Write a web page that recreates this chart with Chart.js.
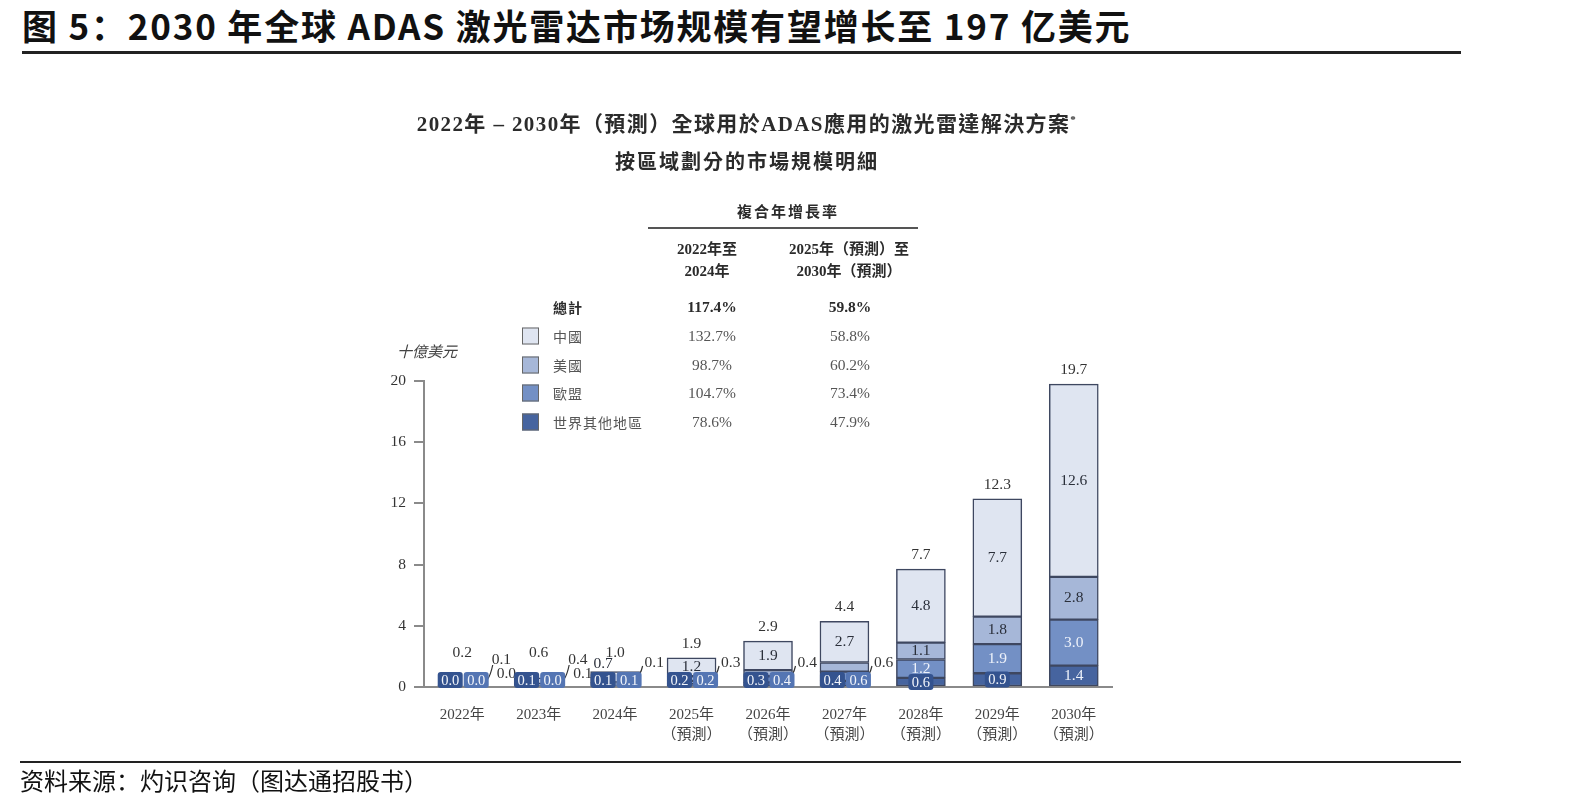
<!DOCTYPE html>
<html>
<head>
<meta charset="utf-8">
<script src="https://cdn.jsdelivr.net/npm/chart.js@4.4.1/dist/chart.umd.min.js"></script>
<style>
    body { margin: 0; background: #fff; width: 1594px; height: 810px; position: relative; overflow: hidden; }
    canvas { position: absolute; left: 0; top: 0; }
    .t { position: absolute; white-space: nowrap; transform: translate(-50%, -50%); color: #2b2b2b;
         font-family: 'Liberation Serif', 'Noto Sans CJK TC', serif; }
    .izq { transform: translate(0, -50%); }
    .b { font-weight: bold; }
    .gris { color: #555; }
    #titulo { position: absolute; left: 22px; top: 5px; font: bold 35px 'Noto Sans CJK SC', sans-serif; color: #111; line-height: 40px; white-space: nowrap; letter-spacing: 1.8px; }
    #fuente { position: absolute; left: 20px; top: 765px; font: 24px 'Noto Sans CJK SC', sans-serif; color: #111; line-height: 30px; }
    .regla { position: absolute; background: #222; }
    .cuadro { position: absolute; width: 15px; height: 15px; border: 1.5px solid #666; transform: translateY(-50%); }
</style>
</head>
<body>
<div id="titulo">图 5：2030 年全球 ADAS 激光雷达市场规模有望增长至 197 亿美元</div>
<div class="regla" style="left:22px; top:51px; width:1439px; height:3px;"></div>
<canvas id="grafica" width="1594" height="810"></canvas>
<div id="capa"></div>
<div class="regla" style="left:20px; top:761px; width:1441px; height:2px;"></div>
<div id="fuente">资料来源：灼识咨询（图达通招股书）</div>

<script>
// Datos (miles de millones de USD)
const anios = ['2022年', '2023年', '2024年', '2025年', '2026年', '2027年', '2028年', '2029年', '2030年'];
const prevision = [false, false, false, true, true, true, true, true, true];
const china = [0.1, 0.4, 0.7, 1.2, 1.9, 2.7, 4.8, 7.7, 12.6];
const eeuu = [0.0, 0.1, 0.1, 0.3, 0.4, 0.6, 1.1, 1.8, 2.8];
const ue = [0.0, 0.0, 0.1, 0.2, 0.4, 0.6, 1.2, 1.9, 3.0];
const resto = [0.0, 0.1, 0.1, 0.2, 0.3, 0.4, 0.6, 0.9, 1.4];
const totales = [0.2, 0.6, 1.0, 1.9, 2.9, 4.4, 7.7, 12.3, 19.7];
const ticksY = [0, 4, 8, 12, 16, 20];

// Tabla de crecimiento anual compuesto
const regiones = ['總計', '中國', '美國', '歐盟', '世界其他地區'];
const cagr2224 = ['117.4%', '132.7%', '98.7%', '104.7%', '78.6%'];
const cagr2530 = ['59.8%', '58.8%', '60.2%', '73.4%', '47.9%'];

const colores = { china: '#dfe5f1', eeuu: '#a6b7d8', ue: '#7390c5', resto: '#46649f' };
const borde = '#3e4760';
const FUENTE = "'Liberation Serif', 'Noto Sans CJK TC', serif";

// Textos fijos alrededor de la gráfica
function ponerTexto(txt, x, y, tam, clases = '', extra = '') {
    const d = document.createElement('div');
    d.className = 't ' + clases;
    d.style.left = x + 'px';
    d.style.top = y + 'px';
    d.style.fontSize = tam + 'px';
    if (extra) d.style.cssText += extra;
    d.innerHTML = txt;
    document.getElementById('capa').appendChild(d);
}

ponerTexto('2022年 – 2030年（預測）全球用於ADAS應用的激光雷達解決方案<sup style="font-size:11px">*</sup>', 747, 122, 21, 'b', 'letter-spacing:1.4px;');
ponerTexto('按區域劃分的市場規模明細', 747, 160, 20, 'b', 'letter-spacing:2px;');
ponerTexto('複合年增長率', 788, 210, 15, 'b', 'letter-spacing:2px;');
ponerTexto('2022年至', 707, 247, 15, 'b');
ponerTexto('2024年', 707, 269, 15, 'b');
ponerTexto('2025年（預測）至', 849, 247, 15, 'b');
ponerTexto('2030年（預測）', 849, 269, 15, 'b');
ponerTexto('十億美元', 427, 350, 15, '', 'font-style:italic;color:#444;');
(function () {
    const r = document.createElement('div');
    r.className = 'regla';
    r.style.cssText = 'left:648px; top:227px; width:270px; height:2px; background:#555;';
    document.getElementById('capa').appendChild(r);
})();

const filasY = [307, 336, 365, 393, 422];
const coloresLeyenda = [null, colores.china, colores.eeuu, colores.ue, colores.resto];
regiones.forEach((reg, k) => {
    const estilo = k === 0 ? 'b' : 'gris';
    ponerTexto(reg, 553, filasY[k], 14, 'izq ' + estilo, 'letter-spacing:1px;');
    ponerTexto(cagr2224[k], 712, filasY[k], 15.5, estilo);
    ponerTexto(cagr2530[k], 850, filasY[k], 15.5, estilo);
    if (coloresLeyenda[k]) {
        const c = document.createElement('div');
        c.className = 'cuadro';
        c.style.left = '522px';
        c.style.top = filasY[k] + 'px';
        c.style.background = coloresLeyenda[k];
        document.getElementById('capa').appendChild(c);
    }
});

// Etiquetas de los segmentos
function alto(el) { return el.base - el.y; }

const etiquetas = {
    id: 'etiquetas',
    afterDatasetsDraw(chart) {
        const ctx = chart.ctx;
        const base = chart.scales.y.getPixelForValue(0);
        ctx.save();
        ctx.textBaseline = 'middle';

        const texto = (t, x, y, color, alin = 'center', tam = 15.5) => {
            ctx.font = tam + 'px ' + FUENTE;
            ctx.fillStyle = color;
            ctx.textAlign = alin;
            ctx.fillText(t, x, y);
        };
        const caja = (t, x, y, fondo) => {
            ctx.fillStyle = fondo;
            ctx.beginPath();
            ctx.roundRect(x - 12.5, y - 8, 25, 16, 3);
            ctx.fill();
            texto(t, x, y + 1, '#f2f5fb', 'center', 14.5);
        };
        const guia = (x1, y1, x2, y2) => {
            ctx.strokeStyle = '#333';
            ctx.lineWidth = 1.2;
            ctx.beginPath();
            ctx.moveTo(x1, y1);
            ctx.quadraticCurveTo(x2 - 4, y1, x2, y2);
            ctx.stroke();
        };

        anios.forEach((_, i) => {
            const [bResto, bUe, bEeuu, bChina] = [0, 1, 2, 3].map(d => chart.getDatasetMeta(d).data[i]);
            const cx = bChina.x;
            const der = cx + bChina.width / 2;

            // total encima de la barra
            texto(totales[i].toFixed(1), cx, Math.min(bChina.y - 14, base - 34), '#333');

            // China
            let chinaFuera = false;
            if (alto(bChina) >= 14) {
                texto(china[i].toFixed(1), cx, (bChina.y + bChina.base) / 2, '#2a2f3a');
            } else if (china[i] >= 0.5) {
                texto(china[i].toFixed(1), cx - 12, bChina.y - 8, '#2a2f3a');
            } else {
                chinaFuera = true;
                guia(der - 6, base - 3, der + 6, base - 22);
                texto(china[i].toFixed(1), der + 5, base - 27, '#333', 'left');
            }

            // EE.UU.
            if (alto(bEeuu) >= 13) {
                texto(eeuu[i].toFixed(1), cx, (bEeuu.y + bEeuu.base) / 2, '#2a2f3a');
            } else {
                const yT = chinaFuera ? base - 13 : base - 24;
                if (!chinaFuera) guia(cx + 6, base - 3, der + 3, yT + 3);
                texto(eeuu[i].toFixed(1), der + (chinaFuera ? 10 : 5), yT, '#333', 'left');
            }

            // UE y resto del mundo
            if (alto(bUe) < 13 && alto(bResto) < 13) {
                caja(resto[i].toFixed(1), cx - 12, base - 7, '#34538f');
                caja(ue[i].toFixed(1), cx + 14, base - 7, '#5475b3');
            } else {
                [[bUe, ue[i], '#5475b3'], [bResto, resto[i], '#34538f']].forEach(([el, v, fondo]) => {
                    const yc = (el.y + el.base) / 2;
                    if (alto(el) >= 13) texto(v.toFixed(1), cx, yc, '#eef2fa');
                    else caja(v.toFixed(1), cx, yc, fondo);
                });
            }
        });
        ctx.restore();
    }
};

const serie = (label, data, color) => ({
    label, data,
    backgroundColor: color,
    borderColor: borde,
    borderWidth: 1.5,
    borderSkipped: false,
    barThickness: 49,
});

const graficaLidar = new Chart(document.getElementById('grafica'), {
    type: 'bar',
    data: {
        labels: anios.map((a, i) => prevision[i] ? [a, '（預測）'] : a),
        datasets: [
            serie('世界其他地區', resto, colores.resto),
            serie('歐盟', ue, colores.ue),
            serie('美國', eeuu, colores.eeuu),
            serie('中國', china, colores.china),
        ],
    },
    options: {
        responsive: false,
        animation: false,
        devicePixelRatio: 1,
        layout: { padding: { left: 341, right: 482, top: 381, bottom: 53 } },
        plugins: { legend: { display: false }, tooltip: { enabled: false } },
        scales: {
            x: {
                stacked: true,
                grid: { display: false, drawTicks: false },
                border: { display: true, color: '#8a8a8a', width: 2 },
                ticks: { padding: 18, color: '#444', font: { family: FUENTE, size: 15, lineHeight: 1.35 }, maxRotation: 0, autoSkip: false },
                afterFit(scale) { scale.height = 70; },
            },
            y: {
                stacked: true,
                min: 0,
                max: 20,
                afterBuildTicks(scale) { scale.ticks = ticksY.map(v => ({ value: v })); },
                grid: { drawOnChartArea: false, drawTicks: true, tickLength: 10, color: '#8a8a8a', lineWidth: 2 },
                border: { display: true, color: '#8a8a8a', width: 2 },
                ticks: { padding: 8, color: '#333', font: { family: FUENTE, size: 15.5 } },
                afterFit(scale) { scale.width = 83; },
            },
        },
    },
    plugins: [etiquetas],
});
</script>
</body>
</html>
